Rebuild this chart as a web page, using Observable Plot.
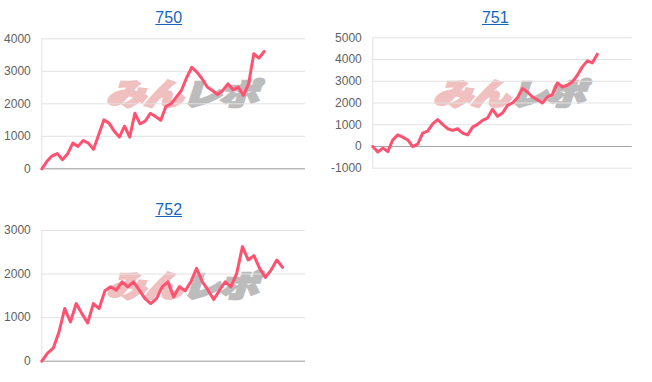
<!DOCTYPE html>
<html><head><meta charset="utf-8">
<script src="https://cdn.jsdelivr.net/npm/d3@7"></script>
<script src="https://cdn.jsdelivr.net/npm/@observablehq/plot@0.6"></script>
<style>
body{margin:0;background:#fff;font-family:Arial,"Liberation Sans",sans-serif;}
#root{position:relative;width:652px;height:382px;overflow:hidden;}
.title{position:absolute;font-size:16px;color:#1565c0;text-decoration:underline;transform:translateX(-50%);line-height:16px;white-space:nowrap;}
.wm{position:absolute;font-family:"Noto Sans CJK JP",sans-serif;font-weight:900;font-style:italic;font-size:30px;line-height:31px;white-space:nowrap;transform:scaleX(1.3);transform-origin:0 0;letter-spacing:-1px;}
.wm .a{color:#f0bfbf;-webkit-text-stroke:2.5px #f0bfbf;}
.wm .b{color:#bcbcbc;-webkit-text-stroke:2.5px #bcbcbc;}
.chart{position:absolute;}
</style></head><body><div id="root"></div>
<script>
const titles = ["750", "751", "752"];
const series750 = [0, 230, 400, 470, 280, 460, 790, 690, 870, 790, 600, 1050, 1505, 1405, 1160, 975, 1310, 975, 1710, 1385, 1465, 1710, 1610, 1490, 1915, 2000, 2205, 2410, 2800, 3125, 2975, 2770, 2515, 2410, 2280, 2410, 2615, 2430, 2515, 2260, 2615, 3540, 3405, 3610];
const series751 = [0, -260, -75, -235, 300, 535, 430, 300, -10, 110, 610, 705, 1040, 1240, 1020, 815, 738, 815, 615, 530, 892, 1015, 1200, 1308, 1708, 1385, 1538, 1892, 2000, 2246, 2662, 2508, 2277, 2154, 2000, 2277, 2385, 2923, 2738, 2815, 2969, 3277, 3662, 3938, 3846, 4246];
const series752 = [0, 185, 300, 670, 1208, 900, 1323, 1092, 877, 1323, 1208, 1615, 1708, 1630, 1823, 1708, 1823, 1630, 1438, 1323, 1438, 1708, 1823, 1477, 1708, 1615, 1823, 2130, 1823, 1630, 1415, 1630, 1823, 1708, 2015, 2630, 2323, 2423, 2130, 1923, 2092, 2323, 2154];
const yTicks750 = [0, 1000, 2000, 3000, 4000];
const yTicks751 = [-1000, 0, 1000, 2000, 3000, 4000, 5000];
const yTicks752 = [0, 1000, 2000, 3000];
const watermarkA = "みん";
const watermarkB = "レポ";

const lineColor = "#ff5270";
const root = document.getElementById("root");

function makeChart(values, ticks, xMax, m) {
  return Plot.plot({
    width: m.w, height: m.h,
    marginLeft: m.l, marginRight: m.r, marginTop: m.t, marginBottom: m.b,
    x: {domain: [0, xMax], axis: null},
    y: {domain: [ticks[0], ticks[ticks.length - 1]], ticks: ticks, tickFormat: d => String(d), tickSize: 0, tickPadding: 11, label: null},
    style: {fontFamily: "Arial, 'Liberation Sans', sans-serif", fontSize: "12px", color: "#5f5f5f", background: "transparent", overflow: "visible"},
    marks: [
      Plot.gridY(ticks, {stroke: "#e2e2e2", strokeOpacity: 1}),
      Plot.ruleX([0], {stroke: "#e2e2e2", strokeOpacity: 1}),
      Plot.ruleY([0], {stroke: "#a6a6a6", strokeOpacity: 1}),
      Plot.line(values.map((v, i) => ({i, v})), {x: "i", y: "v", stroke: lineColor, strokeWidth: 3, strokeLinejoin: "round", strokeLinecap: "round"})
    ]
  });
}

function place(el, left, top) {
  el.style.position = "absolute";
  el.style.left = left + "px";
  el.style.top = top + "px";
  root.appendChild(el);
}

function addTitle(text, cx, top) {
  const t = document.createElement("div");
  t.className = "title";
  t.textContent = text;
  place(t, cx, top);
}

function addWatermark(left, top) {
  const w = document.createElement("div");
  w.className = "wm";
  w.innerHTML = `<span class="a">${watermarkA}</span><span class="b">${watermarkB}</span>`;
  place(w, left, top);
}

const configs = [
  {values: series750, ticks: yTicks750, xMax: 51, left: 0, top: 0, m: {w: 326, h: 180, l: 41.3, r: 21, t: 38.3, b: 11.7}, title: [168.7, 10], wm: [106, 77]},
  {values: series751, ticks: yTicks751, xMax: 52, left: 326, top: 0, m: {w: 326, h: 180, l: 46.3, r: 20.3, t: 37.3, b: 12.3}, title: [495.3, 10], wm: [433, 77]},
  {values: series752, ticks: yTicks752, xMax: 46, left: 0, top: 192, m: {w: 326, h: 180, l: 41.3, r: 21, t: 38, b: 11.3}, title: [168.7, 202], wm: [106, 269]}
];

configs.forEach((c) => {
  addWatermark(c.wm[0], c.wm[1]);
});
configs.forEach((c, k) => {
  const svg = makeChart(c.values, c.ticks, c.xMax, c.m);
  const wrap = document.createElement("div");
  wrap.className = "chart";
  wrap.appendChild(svg);
  place(wrap, c.left, c.top);
  addTitle(titles[k], c.title[0], c.title[1]);
});
</script>
</body></html>
